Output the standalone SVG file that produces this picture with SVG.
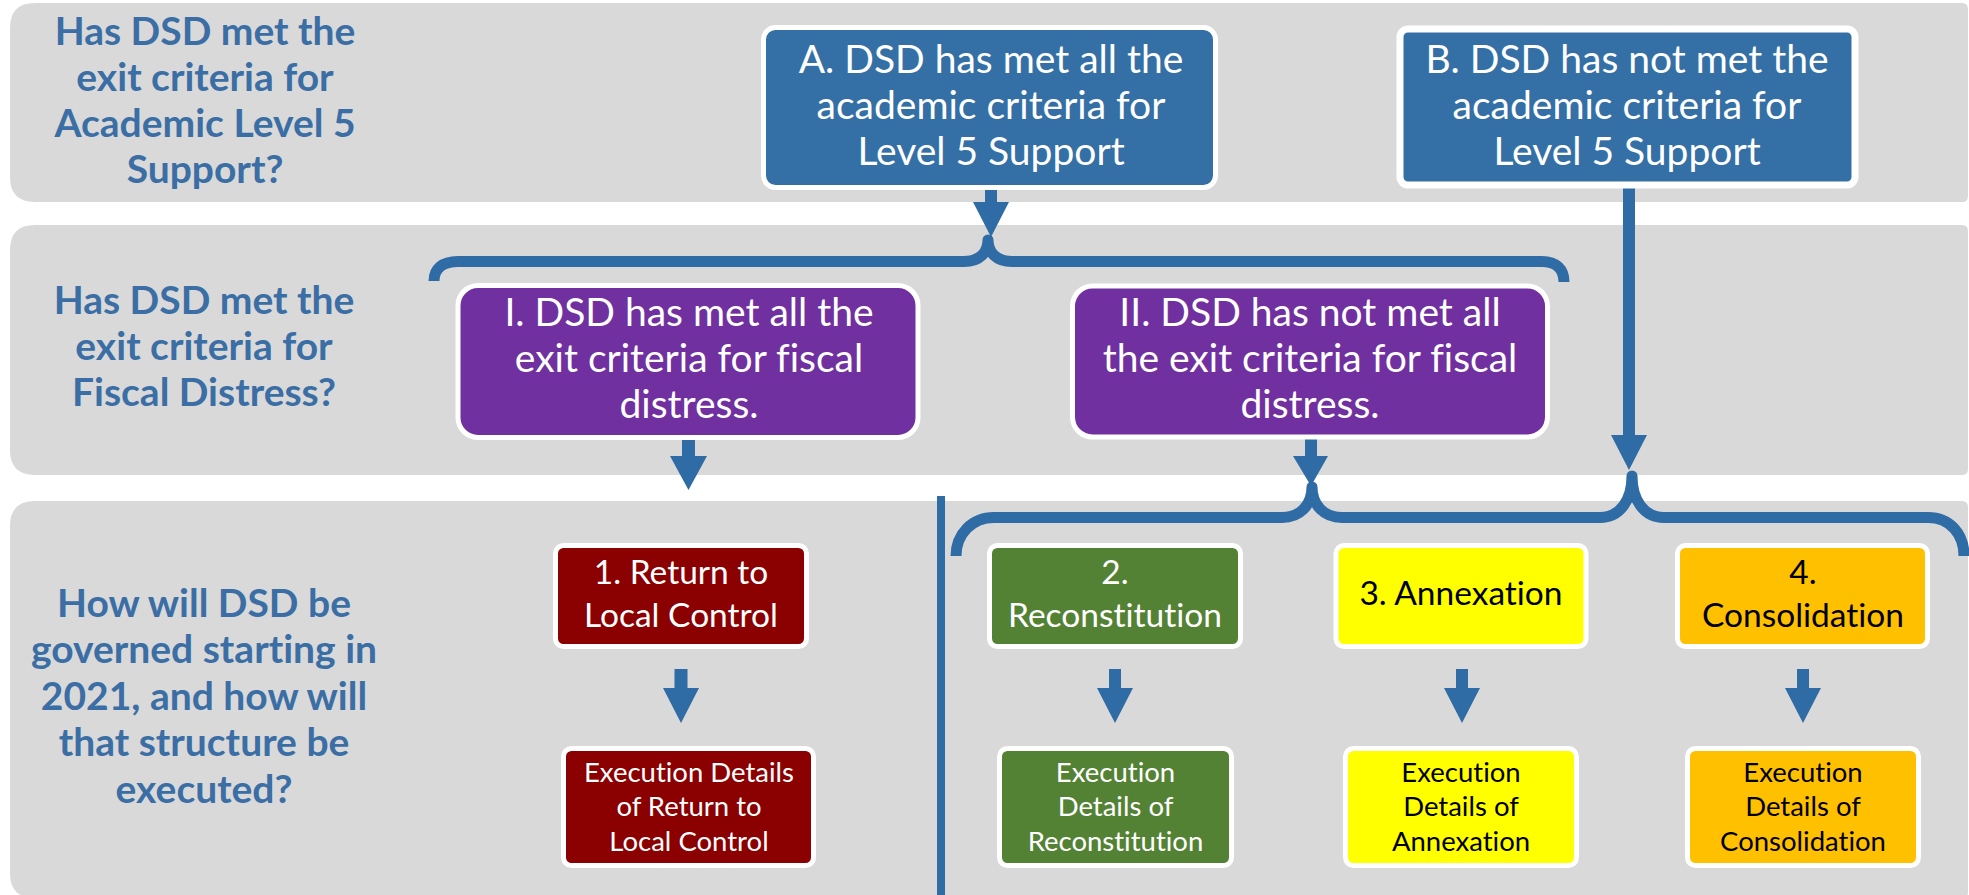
<svg xmlns="http://www.w3.org/2000/svg" width="1969" height="895" viewBox="0 0 1969 895">
<style>
.band{fill:#D9D9D9}
text{font-variant-ligatures:none;font-feature-settings:"liga" 0}
.q{font-family:Lato,"Liberation Sans",sans-serif;font-weight:bold;font-size:39px;fill:#3A6EA5;text-anchor:middle}
.box{stroke:#FFFFFF;stroke-width:5}
.t{font-family:Lato,"Liberation Sans",sans-serif;text-anchor:middle;fill:#FFFFFF}
.big{font-size:39px}
.mid{font-size:33.5px}
.sm{font-size:27.5px}
.dark{fill:#000000}
.brace{fill:none;stroke:#2F6BA4;stroke-width:11;stroke-linejoin:round}
.arr{fill:#2F6BA4}
</style>
<g id="bands">
<path class="band" d="M35 3 H1962 Q1968 3 1968 9 V196 Q1968 202 1962 202 H35 Q10 202 10 177 V28 Q10 3 35 3 Z"/>
<path class="band" d="M35 225 H1962 Q1968 225 1968 231 V469 Q1968 475 1962 475 H35 Q10 475 10 450 V250 Q10 225 35 225 Z"/>
<path class="band" d="M35 501 H1962 Q1968 501 1968 507 V892 Q1968 898 1962 898 H35 Q10 898 10 873 V526 Q10 501 35 501 Z"/>
</g>
<g id="q1">
<text class="q" x="205" y="45">Has DSD met the</text>
<text class="q" x="205" y="91">exit criteria for</text>
<text class="q" x="205" y="137">Academic Level 5</text>
<text class="q" x="205" y="183">Support?</text>
</g>
<g id="q2">
<text class="q" x="204" y="314">Has DSD met the</text>
<text class="q" x="204" y="360">exit criteria for</text>
<text class="q" x="204" y="406">Fiscal Distress?</text>
</g>
<g id="q3">
<text class="q" x="204" y="617">How will DSD be</text>
<text class="q" x="204" y="663">governed starting in</text>
<text class="q" x="204" y="710">2021, and how will</text>
<text class="q" x="204" y="756">that structure be</text>
<text class="q" x="204" y="803">executed?</text>
</g>
<g id="connectors">
<rect x="937" y="496" width="8" height="400" fill="#2F6BA4"/>
<path class="brace" d="M434 281 C434 269 442 261.5 458 261.5 L964 261.5 C980 261.5 988 252 988 240 C988 252 996 261.5 1012 261.5 L1542 261.5 C1556 261.5 1564 269 1564 282"/>
<path class="brace" d="M956 556 C956 534 972 517.5 994 517.5 L1282 517.5 C1300 517.5 1312 505 1312 487 C1312 505 1324 517.5 1342 517.5 L1600 517.5 C1620 517.5 1632 500 1632 476 C1632 500 1644 517.5 1664 517.5 L1928 517.5 C1950 517.5 1964 534 1964 556"/>
<polygon class="arr" points="985,187 997,187 997,202 1009,202 991,237 973,202 985,202"/>
<polygon class="arr" points="682,437 695,437 695,456 707,456 688.5,490 670,456 682,456"/>
<polygon class="arr" points="1305,437 1317,437 1317,456 1328,456 1311,486 1293,456 1305,456"/>
<polygon class="arr" points="1623,188 1635,188 1635,435 1647,435 1629,470 1611,435 1623,435"/>
<polygon class="arr" points="674.5,669 687.5,669 687.5,688 699,688 681,723 663,688 674.5,688"/>
<polygon class="arr" points="1109,669 1121,669 1121,688 1133,688 1115,723 1097,688 1109,688"/>
<polygon class="arr" points="1456,669 1468,669 1468,688 1480,688 1462,723 1444,688 1456,688"/>
<polygon class="arr" points="1797,669 1809,669 1809,688 1821,688 1803,723 1785,688 1797,688"/>
</g>
<g id="nodeA">
<rect class="box" x="763.5" y="27.5" width="452" height="160" rx="12" fill="#3470A5"/>
<text class="t big" x="991" y="73">A. DSD has met all the</text>
<text class="t big" x="991" y="119">academic criteria for</text>
<text class="t big" x="991" y="165">Level 5 Support</text>
</g>
<g id="nodeB">
<rect x="1400" y="29" width="455" height="156" rx="8" fill="#3470A5" stroke="#FFFFFF" stroke-width="7"/>
<text class="t big" x="1627" y="73">B. DSD has not met the</text>
<text class="t big" x="1627" y="119">academic criteria for</text>
<text class="t big" x="1627" y="165">Level 5 Support</text>
</g>
<g id="nodeI">
<rect class="box" x="458" y="285.5" width="460" height="152" rx="20" fill="#7030A0"/>
<text class="t big" x="689" y="326">I. DSD has met all the</text>
<text class="t big" x="689" y="372">exit criteria for fiscal</text>
<text class="t big" x="689" y="418">distress.</text>
</g>
<g id="nodeII">
<rect class="box" x="1072.5" y="286" width="475" height="151" rx="20" fill="#7030A0"/>
<text class="t big" x="1310" y="326">II. DSD has not met all</text>
<text class="t big" x="1310" y="372">the exit criteria for fiscal</text>
<text class="t big" x="1310" y="418">distress.</text>
</g>
<g id="node1">
<rect class="box" x="555.5" y="545.5" width="251" height="101" rx="8" fill="#8B0000"/>
<text class="t mid" x="681" y="584">1. Return to</text>
<text class="t mid" x="681" y="627">Local Control</text>
</g>
<g id="node2">
<rect class="box" x="989.5" y="545.5" width="251" height="101" rx="8" fill="#548235"/>
<text class="t mid" x="1115" y="584">2.</text>
<text class="t mid" x="1115" y="627">Reconstitution</text>
</g>
<g id="node3">
<rect class="box" x="1336" y="545.5" width="250" height="101" rx="8" fill="#FFFF00"/>
<text class="t mid dark" x="1461" y="605">3. Annexation</text>
</g>
<g id="node4">
<rect class="box" x="1677.5" y="545.5" width="250" height="101" rx="8" fill="#FFC000"/>
<text class="t mid dark" x="1803" y="584">4.</text>
<text class="t mid dark" x="1803" y="627">Consolidation</text>
</g>
<g id="exec1">
<rect class="box" x="563.5" y="748.5" width="250" height="117" rx="8" fill="#8B0000"/>
<text class="t sm" x="689" y="782">Execution Details</text>
<text class="t sm" x="689" y="816">of Return to</text>
<text class="t sm" x="689" y="851">Local Control</text>
</g>
<g id="exec2">
<rect class="box" x="999.5" y="748.5" width="232" height="117" rx="8" fill="#548235"/>
<text class="t sm" x="1115.5" y="782">Execution</text>
<text class="t sm" x="1115.5" y="816">Details of</text>
<text class="t sm" x="1115.5" y="851">Reconstitution</text>
</g>
<g id="exec3">
<rect class="box" x="1345.5" y="748.5" width="231" height="117" rx="8" fill="#FFFF00"/>
<text class="t sm dark" x="1461" y="782">Execution</text>
<text class="t sm dark" x="1461" y="816">Details of</text>
<text class="t sm dark" x="1461" y="851">Annexation</text>
</g>
<g id="exec4">
<rect class="box" x="1687.5" y="748.5" width="231" height="117" rx="8" fill="#FFC000"/>
<text class="t sm dark" x="1803" y="782">Execution</text>
<text class="t sm dark" x="1803" y="816">Details of</text>
<text class="t sm dark" x="1803" y="851">Consolidation</text>
</g>
</svg>
